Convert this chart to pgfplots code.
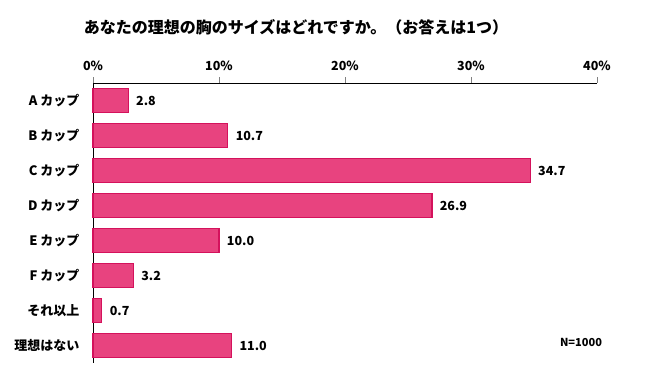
\documentclass[border=0pt]{standalone}
\usepackage{pgfplots}
\pgfplotsset{compat=1.18}
\usepackage{fontspec}
\setmainfont{Noto Sans CJK JP}
\definecolor{barfill}{HTML}{E8437F}
\definecolor{barline}{HTML}{D4125C}
\begin{document}
\begin{tikzpicture}
\useasboundingbox (0pt,0pt) rectangle (650pt,-372pt);
\node[font=\bfseries\fontsize{16}{18}\selectfont] at (296pt,-27pt) {あなたの理想の胸のサイズはどれですか。（お答えは1つ）};
\begin{axis}[
  at={(93pt,-83pt)}, anchor=north west,
  scale only axis, width=504pt, height=280pt,
  xmin=0, xmax=40, ymin=-0.5, ymax=7.5, y dir=reverse,
  axis x line*=top, axis y line*=left,
  axis line style={black, line width=0.9pt},
  xtick={0,10,20,30,40},
  xticklabel={\pgfmathprintnumber{\tick}\%},
  /pgf/number format/assume math mode=true,
  x tick label style={font=\bfseries\fontsize{12.5}{14}\selectfont, yshift=3pt},
  xtick align=outside, major tick length=6pt,
  x tick style={line width=0.9pt},
  ytick={0,...,7},
  yticklabels={A カップ,B カップ,C カップ,D カップ,E カップ,F カップ,それ以上,理想はない},
  y tick label style={font=\bfseries\fontsize{13}{15}\selectfont, xshift=-4pt},
  y tick style={draw=none},
  xbar, bar width=24pt,
  nodes near coords,
  point meta=explicit symbolic,
  every node near coord/.append style={font=\fontsize{12.5}{14}\selectfont\bfseries, anchor=west, xshift=4pt},
  clip=false,
]
\addplot[fill=barfill, draw=barline, line width=1.2pt] coordinates {
  (2.8,0) [2.8]
  (10.7,1) [10.7]
  (34.7,2) [34.7]
  (26.9,3) [26.9]
  (10.0,4) [10.0]
  (3.2,5) [3.2]
  (0.7,6) [0.7]
  (11.0,7) [11.0]
};
\end{axis}
\node[font=\bfseries\fontsize{11}{13}\selectfont] at (581pt,-342pt) {N=1000};
\end{tikzpicture}
\end{document}
